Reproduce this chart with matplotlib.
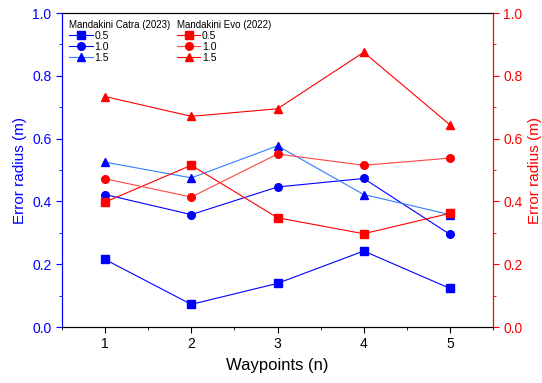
import matplotlib.pyplot as plt
from matplotlib.ticker import MultipleLocator

plt.rcParams['font.family'] = ['Liberation Sans', 'DejaVu Sans']

# data
waypoints = [1, 2, 3, 4, 5]
catra_05 = [0.215, 0.072, 0.139, 0.242, 0.123]
catra_10 = [0.422, 0.358, 0.446, 0.473, 0.295]
catra_15 = [0.525, 0.475, 0.577, 0.422, 0.358]
evo_05 = [0.398, 0.515, 0.348, 0.297, 0.362]
evo_10 = [0.472, 0.414, 0.551, 0.515, 0.538]
evo_15 = [0.734, 0.671, 0.695, 0.875, 0.644]
labels = ['0.5', '1.0', '1.5']

fig = plt.figure(figsize=(5.42, 3.83), dpi=100)
ax = fig.add_axes([0.1144, 0.1462, 0.7952, 0.8198])
ax2 = ax.twinx()

blue_cols = ['#0000ff', '#0000ff', '#2f7fff']
red_cols = ['#ff0000', '#ff4545', '#ff0000']
markers = ['s', 'o', '^']

hb = []
for y, c, m, lab in zip([catra_05, catra_10, catra_15], blue_cols, markers, labels):
    l, = ax.plot(waypoints, y, color=c, lw=0.8, marker=m, ms=5.5,
                 mfc='#0000ff', mec='#0000ff', label=lab)
    hb.append(l)
hr = []
for y, c, m, lab in zip([evo_05, evo_10, evo_15], red_cols, markers, labels):
    l, = ax2.plot(waypoints, y, color=c, lw=0.8, marker=m, ms=5.5,
                  mfc='#ff0000', mec='#ff0000', label=lab)
    hr.append(l)

ax.set_xlim(0.5, 5.5)
for a in (ax, ax2):
    a.set_ylim(0, 1.0)
    a.yaxis.set_major_locator(MultipleLocator(0.2))
    a.yaxis.set_minor_locator(MultipleLocator(0.1))
ax.xaxis.set_major_locator(MultipleLocator(1))
ax.xaxis.set_minor_locator(MultipleLocator(0.5))

ax.tick_params(axis='x', which='both', direction='out', labelsize=10)
ax.tick_params(axis='y', which='both', colors='#0000ff', labelsize=10)
ax2.tick_params(axis='y', which='both', colors='#ff0000', labelsize=10)
for a in (ax, ax2):
    a.tick_params(which='major', length=4)
    a.tick_params(which='minor', length=2.5)

for a in (ax, ax2):
    a.spines['left'].set_color('#0000ff')
    a.spines['right'].set_color('#ff0000')

ax.set_xlabel('Waypoints (n)', fontsize=12, labelpad=5)
ax.set_ylabel('Error radius (m)', fontsize=11, color='#0000ff', labelpad=4)
ax2.set_ylabel('Error radius (m)', fontsize=11, color='#ff0000', labelpad=4)

leg_kw = dict(loc='upper left', frameon=False, fontsize=7.5,
              title_fontsize=7, alignment='left', handlelength=2.3,
              handletextpad=0.15, labelspacing=0.1, borderaxespad=0.25,
              markerscale=1.0)
leg1 = ax2.legend(handles=hb, title='Mandakini Catra (2023)',
                  bbox_to_anchor=(0.0, 1.0), **leg_kw)
ax2.add_artist(leg1)
ax2.legend(handles=hr, title='Mandakini Evo (2022)',
           bbox_to_anchor=(0.25, 1.0), **leg_kw)

fig.savefig('out.png', dpi=100)
